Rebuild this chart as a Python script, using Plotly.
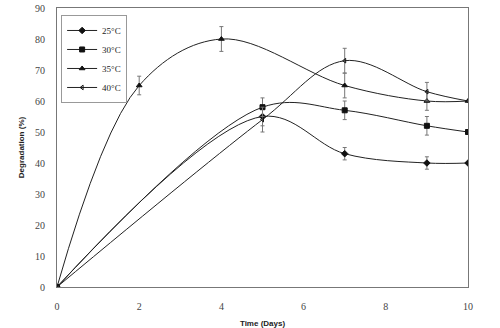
import plotly.graph_objects as go

# Data
days_25 = [0, 5, 7, 9, 10]
deg_25 = [0, 55, 43, 40, 40]
err_25 = [0, 3, 2, 2, 0]

days_30 = [0, 5, 7, 9, 10]
deg_30 = [0, 58, 57, 52, 50]
err_30 = [0, 3, 3, 3, 0]

days_35 = [0, 2, 4, 7, 9, 10]
deg_35 = [0, 65, 80, 65, 60, 60]
err_35 = [0, 3, 4, 4, 3, 0]

days_40 = [0, 5, 7, 9, 10]
deg_40 = [0, 54, 73, 63, 60]
err_40 = [0, 4, 4, 3, 0]

series = [
    ("25°C", days_25, deg_25, err_25, "diamond", 5),
    ("30°C", days_30, deg_30, err_30, "square", 5),
    ("35°C", days_35, deg_35, err_35, "triangle-up", 5),
    ("40°C", days_40, deg_40, err_40, "triangle-left-open", 4),
]

x_ticks = [0, 2, 4, 6, 8, 10]
y_ticks = [0, 10, 20, 30, 40, 50, 60, 70, 80, 90]

fig = go.Figure()
for name, xs, ys, es, sym, sz in series:
    fig.add_trace(go.Scatter(
        x=xs, y=ys, name=name, mode="lines+markers",
        line=dict(color="#222222", width=1, shape="spline", smoothing=1.0),
        marker=dict(symbol=sym, size=sz, color="#111111",
                    line=dict(color="#111111", width=1)),
        error_y=dict(type="data", array=es, visible=True, color="#777777",
                     thickness=1, width=2),
    ))

axis_font = dict(family="Liberation Serif, serif", size=10, color="#444444")
fig.update_layout(
    width=500, height=328,
    margin=dict(l=57, r=32, t=8, b=41),
    paper_bgcolor="white", plot_bgcolor="white",
    showlegend=True,
    legend=dict(x=0.01, y=0.975, xanchor="left", yanchor="top",
                bordercolor="#999999", borderwidth=1, bgcolor="white",
                font=dict(family="Liberation Serif, serif", size=9, color="#222222"),
                itemwidth=30, tracegroupgap=0),
    xaxis=dict(range=[0, 10], tickvals=x_ticks, ticks="", showgrid=False,
               zeroline=False, showline=True, linecolor="#777777", linewidth=1,
               mirror=True, tickfont=axis_font, automargin=False,
               ticklabelstandoff=10,
               title=dict(text="<b>Time (Days)</b>",
                          font=dict(family="Liberation Sans, sans-serif", size=8, color="#222222"),
                          standoff=14)),
    yaxis=dict(range=[0, 90], tickvals=y_ticks, ticks="", showgrid=False,
               zeroline=False, showline=True, linecolor="#777777", linewidth=1,
               mirror=True, tickfont=axis_font, automargin=False,
               ticklabelstandoff=9,
               title=dict(text="<b>Degradation (%)</b>",
                          font=dict(family="Liberation Sans, sans-serif", size=8, color="#222222"),
                          standoff=9)),
)
fig.write_html("out.html", config={"displayModeBar": False},
               post_script="document.body.style.margin='0';")
